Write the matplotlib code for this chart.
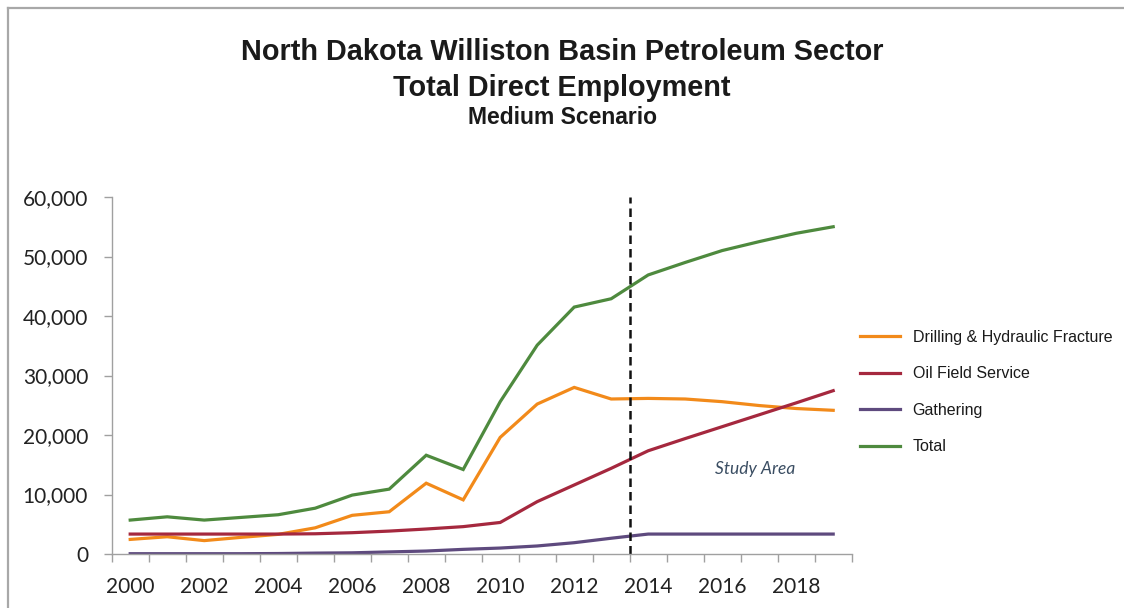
import matplotlib
matplotlib.use("Agg")
import matplotlib.pyplot as plt
from matplotlib.lines import Line2D
from matplotlib.ticker import FuncFormatter

years = list(range(2000, 2020))
drilling = [2450, 2900, 2250, 2800, 3300, 4400, 6500, 7100, 11900, 9100,
            19600, 25200, 28000, 26050, 26150, 26050, 25600, 24950, 24450, 24150]
oil_field = [3350, 3350, 3350, 3350, 3350, 3400, 3580, 3850, 4200, 4600,
             5300, 8800, 11600, 14400, 17350, 19400, 21400, 23400, 25400, 27450]
gathering = [50, 50, 50, 50, 80, 150, 200, 350, 500, 780,
             1000, 1350, 1900, 2650, 3350, 3350, 3350, 3350, 3350, 3350]
total = [5700, 6250, 5700, 6150, 6600, 7700, 9900, 10900, 16600, 14200,
         25600, 35100, 41500, 42900, 46900, 49000, 51000, 52500, 53900, 55000]
series_names = ["Drilling & Hydraulic Fracture", "Oil Field Service", "Gathering", "Total"]
series_colors = ["#F28A1A", "#A5283E", "#5E4A7E", "#4E8A3E"]
yticks = [0, 10000, 20000, 30000, 40000, 50000, 60000]
xlabels_years = years[::2]
divider_year = 2013.5

W, H = 1124, 608
fig = plt.figure(figsize=(W / 100, H / 100), dpi=100)
fig.patch.set_facecolor("white")

# border lines (top and left)
fig.add_artist(Line2D([7.5 / W, 1.0], [1 - 7.5 / H, 1 - 7.5 / H], color="#A8A8A8", lw=1.6))
fig.add_artist(Line2D([7.5 / W, 7.5 / W], [0.0, 1 - 7.5 / H], color="#A8A8A8", lw=1.6))

ax = fig.add_axes([111.7 / W, (H - 554) / H, (851.7 - 111.7) / W, (554 - 197) / H])
x = [y - years[0] for y in years]
for vals, name, col in zip([drilling, oil_field, gathering, total], series_names, series_colors):
    ax.plot(x, vals, color=col, lw=2.3, label=name, solid_joinstyle="miter")

ax.set_xlim(-0.5, len(years) - 0.5)
ax.set_ylim(0, 60000)
ax.set_yticks(yticks)
ax.yaxis.set_major_formatter(FuncFormatter(lambda v, p: f"{int(v):,}"))
ax.set_xticks([y - years[0] for y in xlabels_years])
ax.set_xticklabels([str(y) for y in xlabels_years])
ax.set_xticks([i - 0.5 for i in range(len(years) + 1)], minor=True)
ax.tick_params(axis="x", which="major", length=0, pad=16.5, labelsize=15, labelcolor="#222222")
ax.tick_params(axis="x", which="minor", length=6, width=1, color="#A0A0A0", direction="out")
ax.tick_params(axis="y", length=6, width=1, color="#A0A0A0", pad=11, labelsize=15, labelcolor="#222222")
for lab in ax.get_xticklabels() + ax.get_yticklabels():
    lab.set_fontfamily("Lato")
for s in ["top", "right"]:
    ax.spines[s].set_visible(False)
for s in ["left", "bottom"]:
    ax.spines[s].set_color("#A0A0A0")
    ax.spines[s].set_linewidth(1.0)

ax.axvline(divider_year - years[0], color="#111111", lw=1.8, linestyle=(0, (3.4, 2.0)), ymax=1.0)

ax.text(16.9, 14300, "Study Area", fontsize=12.5, fontstyle="italic", family="Lato",
        color="#3A4D62", ha="center", va="center")

fig.text(0.5, 1 - 52 / H, "North Dakota Williston Basin Petroleum Sector", ha="center", va="center",
         fontsize=20.8, fontweight="bold", family="Liberation Sans", color="#1A1A1A")
fig.text(0.5, 1 - 88 / H, "Total Direct Employment", ha="center", va="center",
         fontsize=20.8, fontweight="bold", family="Liberation Sans", color="#1A1A1A")
fig.text(0.5, 1 - 117 / H, "Medium Scenario", ha="center", va="center",
         fontsize=16.5, fontweight="bold", family="Liberation Sans", color="#1A1A1A")

leg = fig.legend(loc="center left", bbox_to_anchor=(860 / W, 1 - 392 / H), frameon=False,
                 prop={"family": "Liberation Sans", "size": 11.5}, handlelength=2.5,
                 handletextpad=0.8, labelspacing=1.35, borderpad=0, borderaxespad=0)
for t in leg.get_texts():
    t.set_color("#1A1A1A")

fig.savefig("out.png", dpi=100, facecolor="white")
